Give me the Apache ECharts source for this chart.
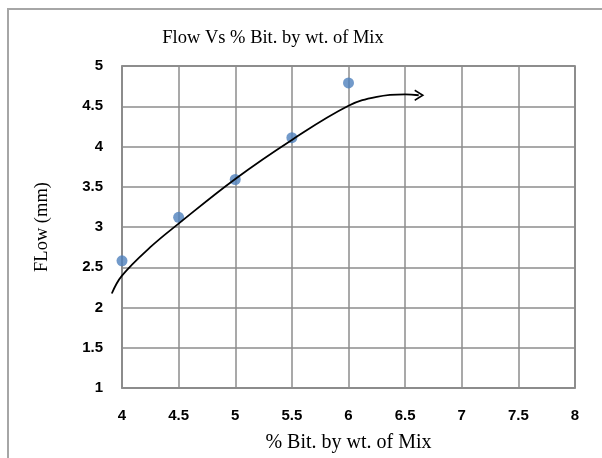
<!DOCTYPE html>
<html><head><meta charset="utf-8">
<script src="https://cdn.jsdelivr.net/npm/echarts@6/dist/echarts.min.js"></script>
<style>html,body{margin:0;padding:0;background:#fff;overflow:hidden}#c{width:602px;height:458px}</style>
</head><body><div id="c"></div>
<script>
var titleText = 'Flow Vs % Bit. by wt. of Mix';
var xName = '% Bit. by wt. of Mix';
var yName = 'FLow (mm)';
var bitContent = [4, 4.5, 5, 5.5, 6];
var flowValues = [2.58, 3.12, 3.59, 4.11, 4.79];
var trendX = [3.91, 4.0, 4.25, 4.5, 5.0, 5.5, 6.0, 6.25, 6.5, 6.62];
var trendY = [2.2, 2.42, 2.77, 3.06, 3.61, 4.09, 4.51, 4.62, 4.65, 4.64];

var scatterData = bitContent.map(function (x, i) { return [x, flowValues[i]]; });
var trendData = trendX.map(function (x, i) {
  var d = { value: [x, trendY[i]] };
  if (i === trendX.length - 1) {
    d.symbol = 'path://M0,0 L10,5 L0,10';
    d.symbolSize = [8, 10];
    d.itemStyle = { color: 'none', borderColor: '#000', borderWidth: 1.6 };
  } else {
    d.symbol = 'none';
  }
  return d;
});

var labelStyle = { fontFamily: 'Liberation Sans', fontWeight: 'bold', fontSize: 15, color: '#000' };
var gridLine = { color: '#8c8c8c', width: 1.5 };

var chart = echarts.init(document.getElementById('c'), null, { renderer: 'canvas' });
chart.setOption({
  animation: false,
  backgroundColor: '#fff',
  title: {
    text: titleText, left: 268, top: 24, textAlign: 'center',
    textStyle: { fontFamily: 'Liberation Serif', fontSize: 18.5, fontWeight: 'normal', color: '#000' }
  },
  graphic: [{
    type: 'rect', shape: { x: 8, y: 9, width: 700, height: 600 },
    style: { fill: 'none', stroke: '#a6a6a6', lineWidth: 2 }, silent: true, z: -1
  }],
  grid: [
    { left: 122, right: 27, top: 66, bottom: 67, show: true, borderColor: '#6e6e6e', borderWidth: 1.5 },
    { left: 122 - 453 / 8, right: 27, top: 66, bottom: 67, show: false }
  ],
  xAxis: [{
    type: 'value', min: 4, max: 8, interval: 0.5, gridIndex: 0,
    name: xName, nameLocation: 'middle', nameGap: 45,
    nameTextStyle: { fontFamily: 'Liberation Serif', fontSize: 20, color: '#000' },
    axisLine: { show: true, lineStyle: gridLine },
    axisTick: { show: false },
    axisLabel: Object.assign({ margin: 20 }, labelStyle),
    splitLine: { show: true, lineStyle: gridLine }
  }, {
    type: 'value', min: 3.5, max: 8, gridIndex: 1, show: false
  }],
  yAxis: [{
    type: 'value', min: 1, max: 5, interval: 0.5, gridIndex: 0,
    name: yName, nameLocation: 'middle', nameGap: 70,
    nameTextStyle: { fontFamily: 'Liberation Serif', fontSize: 18.5, color: '#000' },
    axisLine: { show: true, lineStyle: gridLine },
    axisTick: { show: false },
    axisLabel: Object.assign({ margin: 19 }, labelStyle),
    splitLine: { show: true, lineStyle: gridLine }
  }, {
    type: 'value', min: 1, max: 5, gridIndex: 1, show: false
  }],
  series: [
    {
      type: 'line', data: trendData, smooth: 0.4, clip: false,
      xAxisIndex: 1, yAxisIndex: 1,
      lineStyle: { color: '#000', width: 1.8 }, z: 3
    },
    {
      type: 'scatter', data: scatterData, symbol: 'circle', symbolSize: 11,
      xAxisIndex: 0, yAxisIndex: 0,
      itemStyle: { color: '#4f81bd' }, z: 2
    }
  ]
});
</script></body></html>
